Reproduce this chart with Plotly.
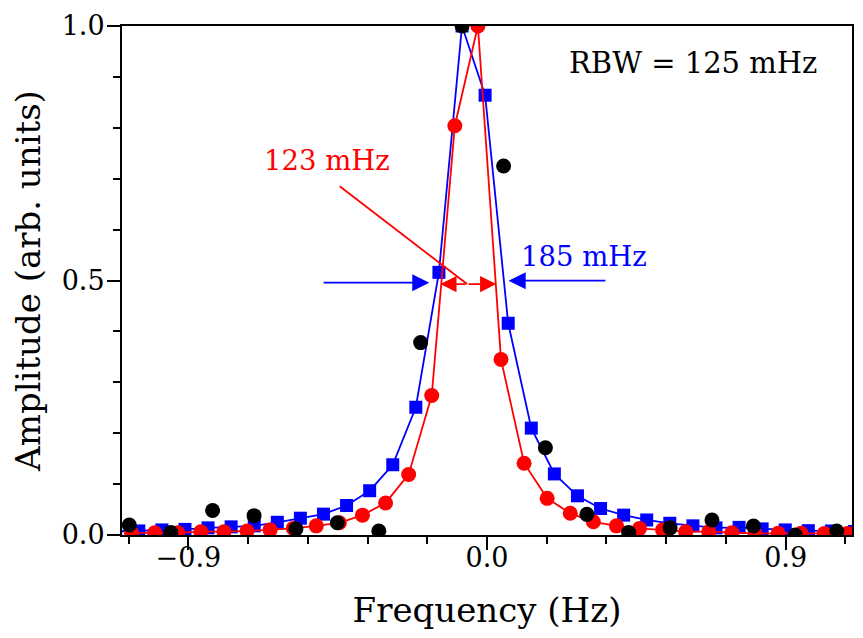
import plotly.graph_objects as go

# ---- data ----
blue_x = [-1.1190, -1.0494, -0.9798, -0.9102, -0.8407, -0.7711, -0.7015, -0.6319, -0.5624,
          -0.4928, -0.4232, -0.3536, -0.2840, -0.2145, -0.1449, -0.0753, -0.0057, 0.0639,
          0.1335, 0.2030, 0.2726, 0.3422, 0.4118, 0.4813, 0.5509, 0.6205, 0.6901, 0.7597,
          0.8292, 0.8988, 0.9684, 1.0380, 1.1076]
blue_y = [0.007, 0.008, 0.010, 0.011, 0.014, 0.016, 0.018, 0.025, 0.033, 0.041, 0.058, 0.087,
          0.138, 0.251, 0.516, 1.0, 0.864, 0.416, 0.21, 0.12, 0.077, 0.052, 0.039, 0.0295,
          0.023, 0.018, 0.014, 0.015, 0.012, 0.010, 0.0085, 0.008, 0.007]

red_x = [-1.0711, -1.0015, -0.9319, -0.8624, -0.7928, -0.7232, -0.6536, -0.5840, -0.5145,
         -0.4449, -0.3753, -0.3057, -0.2361, -0.1666, -0.0970, -0.0274, 0.0422, 0.1118,
         0.1813, 0.2509, 0.3205, 0.3901, 0.4597, 0.5292, 0.5988, 0.6684, 0.7380, 0.8076,
         0.8771, 0.9467, 1.0163, 1.0859]
red_y = [0.004, 0.0045, 0.0045, 0.0065, 0.0065, 0.008, 0.010, 0.013, 0.018, 0.024, 0.039,
         0.063, 0.119, 0.274, 0.804, 1.0, 0.345, 0.141, 0.072, 0.0426, 0.026, 0.018, 0.013,
         0.010, 0.0065, 0.0065, 0.0045, 0.0033, 0.0033, 0.0033, 0.003, 0.003]

black_x = [-1.078, -0.953, -0.827, -0.702, -0.576, -0.451, -0.326, -0.200, -0.075, 0.050,
           0.176, 0.301, 0.427, 0.552, 0.678, 0.803, 0.929, 1.054]
black_y = [0.0196, 0.005, 0.048, 0.038, 0.012, 0.024, 0.008, 0.378, 1.0, 0.725, 0.1715,
           0.0406, 0.005, 0.014, 0.0295, 0.0177, 0.0, 0.008]

x_tick_vals = [-0.9, 0.0, 0.9]
x_tick_text = ["\u22120.9", "0.0", "0.9"]
x_minor_vals = [-1.08, -0.72, -0.54, -0.36, -0.18, 0.18, 0.36, 0.54, 0.72, 1.08]
y_tick_vals = [0.0, 0.5, 1.0]
y_tick_text = ["0.0", "0.5", "1.0"]
y_minor_vals = [0.1, 0.2, 0.3, 0.4, 0.6, 0.7, 0.8, 0.9]

FONT = "DejaVu Serif"
BLUE = "#0000ff"
RED = "#ff0000"

fig = go.Figure()
fig.add_trace(go.Scatter(x=blue_x, y=blue_y, mode="lines+markers",
                         line=dict(color=BLUE, width=1.8),
                         marker=dict(symbol="square", size=13, color=BLUE, line=dict(width=0))))
fig.add_trace(go.Scatter(x=red_x, y=red_y, mode="lines+markers",
                         line=dict(color=RED, width=1.8),
                         marker=dict(symbol="circle", size=15, color=RED, line=dict(width=0))))
fig.add_trace(go.Scatter(x=black_x, y=black_y, mode="markers",
                         marker=dict(symbol="circle", size=15, color="black", line=dict(width=0))))

axis_common = dict(showline=True, linecolor="black", linewidth=2, mirror=True,
                   showgrid=False, zeroline=False, ticks="outside", ticklen=13,
                   tickwidth=2, tickcolor="black", automargin=False,
                   tickfont=dict(family=FONT, size=27, color="black"))

fig.update_xaxes(range=[-1.1, 1.1], tickmode="array", tickvals=x_tick_vals, ticktext=x_tick_text,
                 ticklabelstandoff=-15,
                 minor=dict(tickmode="array", tickvals=x_minor_vals, ticks="outside",
                            ticklen=7, tickwidth=2, tickcolor="black", showgrid=False),
                 title=dict(text="Frequency (Hz)", font=dict(family=FONT, size=34, color="black"),
                            standoff=26),
                 **axis_common)
fig.update_yaxes(range=[0, 1.0], tickmode="array", tickvals=y_tick_vals, ticktext=y_tick_text,
                 ticklabelstandoff=-3,
                 minor=dict(tickmode="array", tickvals=y_minor_vals, ticks="outside",
                            ticklen=7, tickwidth=2, tickcolor="black", showgrid=False),
                 title=dict(text="Amplitude (arb. units)", font=dict(family=FONT, size=34, color="black"),
                            standoff=22),
                 **axis_common)

# annotations
fig.add_annotation(x=0.621, y=0.927, xref="x", yref="y", text="RBW = 125 mHz", showarrow=False,
                   font=dict(family=FONT, size=29, color="black"))
fig.add_annotation(x=-0.481, y=0.737, xref="x", yref="y", text="123 mHz", showarrow=False,
                   font=dict(family=FONT, size=27.5, color=RED))
fig.add_annotation(x=0.293, y=0.548, xref="x", yref="y", text="185 mHz", showarrow=False,
                   font=dict(family=FONT, size=27.5, color=BLUE))

# red pointer line
fig.add_shape(type="line", xref="x", yref="y", x0=-0.444, y0=0.685, x1=-0.06, y1=0.493,
              line=dict(color=RED, width=1.8))

# red double arrow
for tip in (-0.1407, 0.028):
    fig.add_annotation(x=tip, y=0.493, ax=-0.06, ay=0.493, xref="x", yref="y",
                       axref="x", ayref="y", text="", showarrow=True, arrowhead=2,
                       arrowsize=1.8, arrowwidth=1.8, arrowcolor=RED)

# blue arrows
fig.add_annotation(x=-0.1738, y=0.4957, ax=-0.497, ay=0.4957, xref="x", yref="y",
                   axref="x", ayref="y", text="", showarrow=True, arrowhead=2,
                   arrowsize=1.9, arrowwidth=1.8, arrowcolor=BLUE)
fig.add_annotation(x=0.065, y=0.4996, ax=0.3614, ay=0.4996, xref="x", yref="y",
                   axref="x", ayref="y", text="", showarrow=True, arrowhead=2,
                   arrowsize=1.9, arrowwidth=1.8, arrowcolor=BLUE)

# page body has an 8px default margin: size/margins chosen so the plot area
# lands at left=122, top=26, right=852, bottom=535 in the window
fig.update_layout(width=855, height=630, showlegend=False,
                  plot_bgcolor="white", paper_bgcolor="white",
                  margin=dict(l=114, r=11, t=18, b=103),
                  font=dict(family=FONT, color="black"))

fig.write_html("out.html")
